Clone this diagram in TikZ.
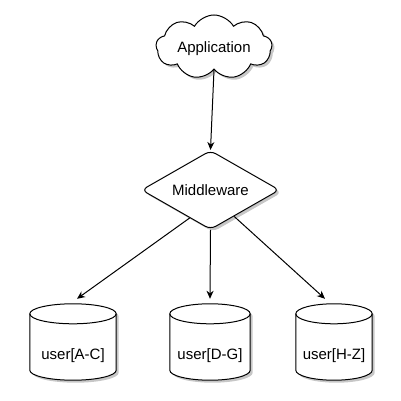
\documentclass[tikz,border=0pt]{standalone}
\usepackage{fontspec}
\setmainfont{Liberation Sans}
\usetikzlibrary{shapes.geometric,shapes.symbols,arrows.meta,calc,shadows}
\begin{document}
\begin{tikzpicture}[x=1pt,y=1pt,
  font=\fontsize{15}{18}\selectfont,
  shd/.style={drop shadow={shadow xshift=2.5pt,shadow yshift=-2.5pt,opacity=0.22,fill=black}},
  arr/.style={line width=1pt,-{Stealth[length=8pt,width=7pt,inset=2.5pt]}},
  appcloud/.style={cloud,cloud puffs=9,cloud puff arc=120,aspect=1.9,draw,line width=1pt,fill=white,shd,
    minimum width=116pt,minimum height=64pt,inner sep=0pt},
  decision/.style={diamond,draw,line width=1pt,fill=white,shd,rounded corners=6pt,
    minimum width=138pt,minimum height=79pt,aspect=1.75,inner sep=0pt},
  dbbox/.style={rectangle,draw=none,minimum height=76pt,inner sep=0pt},
  cylline/.style={draw,line width=1pt,fill=white},
]
\useasboundingbox (0,0) rectangle (401,401);
\node[appcloud] (app) at (214,354) {};
\node (apptext) at ($(app.center)+(0,-2)$) {Application};
\node[decision] (mw) at (210.5,211) {Middleware};
\node[dbbox,minimum width=86pt] (c1) at (73,59) {};
\node[dbbox,minimum width=80pt] (c2) at (210,59) {};
\node[dbbox,minimum width=76pt] (c3) at (334,59) {};
\foreach \cc in {c1,c2,c3}{
  \draw[cylline,shd] let \p1=(\cc.north west), \p2=(\cc.south east), \n{r}={(\x2-\x1)/2} in
    (\x1,\y2+10pt) arc[start angle=180,end angle=360,x radius=\n{r},y radius=10pt]
    -- (\x2,\y1-10pt) arc[start angle=0,end angle=180,x radius=\n{r},y radius=10pt] -- cycle;
  \draw[line width=1pt] let \p1=(\cc.north west), \p2=(\cc.south east), \n{r}={(\x2-\x1)/2} in
    (\x1,\y1-10pt) arc[start angle=180,end angle=360,x radius=\n{r},y radius=10pt];
}
\node (t1) at ($(c1.center)+(0,-14)$) {user[A-C]};
\node (t2) at ($(c2.center)+(0,-14)$) {user[D-G]};
\node (t3) at ($(c3.center)+(0,-14)$) {user[H-Z]};
\coordinate (e1) at ($(c1.north)+(4,5)$);
\coordinate (e2) at ($(c2.north)+(0,5)$);
\coordinate (e3) at ($(c3.north)+(-9,5)$);
\coordinate (s0) at (app.south);
\draw[arr] (s0) -- (mw.north);
\draw[arr] ($(mw.south)!0.3!(mw.west)$) -- (e1);
\draw[arr] (mw.south) -- (e2);
\draw[arr] ($(mw.south)!0.34!(mw.east)$) -- (e3);
\end{tikzpicture}
\end{document}
